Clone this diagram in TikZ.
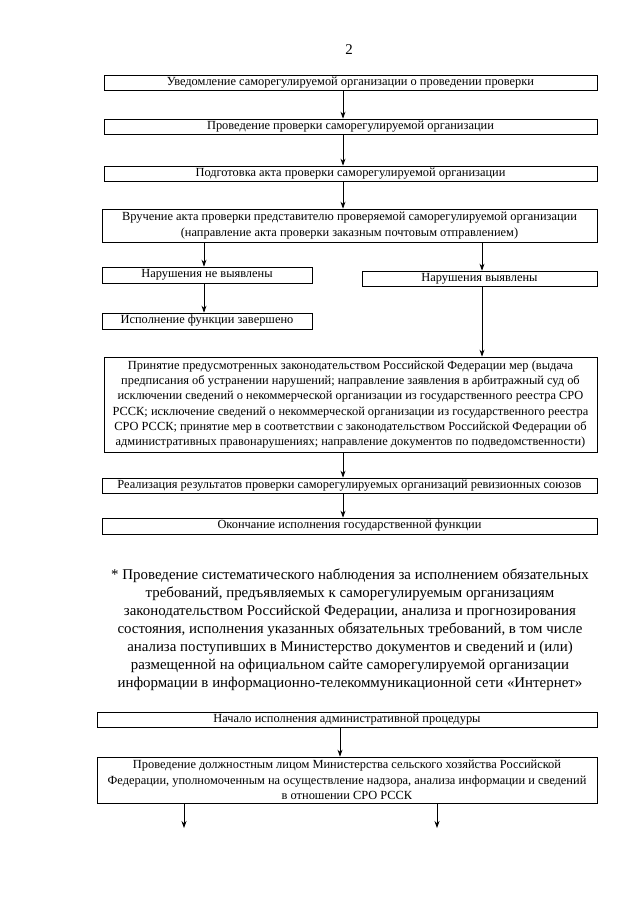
\documentclass[tikz,border=0pt]{standalone}
\usepackage{fontspec}
\setmainfont{Liberation Serif}
\usetikzlibrary{arrows.meta}
\newcommand{\boxfont}{\fontsize{12.4}{15.3}\selectfont}
\newcommand{\parfont}{\fontsize{14.9}{18}\selectfont}
\begin{document}
\begin{tikzpicture}[x=1pt,y=-1pt,
  fbox/.style={draw, line width=0.7pt, inner sep=0pt, align=center, font=\boxfont},
  arr/.style={draw, line width=0.8pt, -{Stealth[length=7pt,width=5pt]}}]
\useasboundingbox (0,0) rectangle (640,905);
\fill[white] (0,0) rectangle (640,905);
\node[font=\parfont] (pg) at (349,50) {2};
\node[fbox, minimum width=493pt, minimum height=15pt] (b1) at (350.5,82.5) {Уведомление саморегулируемой организации о проведении проверки};
\node[fbox, minimum width=493pt, minimum height=15pt] (b2) at (350.5,126.5) {Проведение проверки саморегулируемой организации};
\node[fbox, minimum width=493pt, minimum height=15pt] (b3) at (350.5,173.5) {Подготовка акта проверки саморегулируемой организации};
\node[fbox, minimum width=495pt, minimum height=33pt] (b4) at (349.5,225.5) {Вручение акта проверки представителю проверяемой саморегулируемой организации\\(направление акта проверки заказным почтовым отправлением)};
\node[fbox, minimum width=210pt, minimum height=16pt] (l1) at (207,275) {Нарушения не выявлены};
\node[fbox, minimum width=235pt, minimum height=15pt] (r1) at (479.5,278.5) {Нарушения выявлены};
\node[fbox, minimum width=210pt, minimum height=16pt] (l2) at (207,321) {Исполнение функции завершено};
\node[fbox, minimum width=493pt, minimum height=95pt] (big) at (350.5,404.5) {Принятие предусмотренных законодательством Российской Федерации мер (выдача\\предписания об устранении нарушений; направление заявления в арбитражный суд об\\исключении сведений о некоммерческой организации из государственного реестра СРО\\РССК; исключение сведений о некоммерческой организации из государственного реестра\\СРО РССК; принятие мер в соответствии с законодательством Российской Федерации об\\административных правонарушениях; направление документов по подведомственности)};
\node[fbox, minimum width=495pt, minimum height=15pt] (real) at (349.5,485.5) {Реализация результатов проверки саморегулируемых организаций ревизионных союзов};
\node[fbox, minimum width=495pt, minimum height=16pt] (okon) at (349.5,526) {Окончание исполнения государственной функции};
\node[font=\parfont, align=center, inner sep=0pt] (par) at (350,630) {* Проведение систематического наблюдения за исполнением обязательных\\требований, предъявляемых к саморегулируемым организациям\\законодательством Российской Федерации, анализа и прогнозирования\\состояния, исполнения указанных обязательных требований, в том числе\\анализа поступивших в Министерство документов и сведений и (или)\\размещенной на официальном сайте саморегулируемой организации\\информации в информационно-телекоммуникационной сети «Интернет»};
\node[fbox, minimum width=500pt, minimum height=15pt] (n1) at (347,719.5) {Начало исполнения административной процедуры};
\node[fbox, minimum width=500pt, minimum height=46pt] (n2) at (347,780) {Проведение должностным лицом Министерства сельского хозяйства Российской\\Федерации, уполномоченным на осуществление надзора, анализа информации и сведений\\в отношении СРО РССК};
\coordinate (cx) at (343,0);
\coordinate (lx) at (204,0);
\coordinate (rx) at (482,0);
\coordinate (nx) at (340,0);
\coordinate (e1) at (184,828);
\coordinate (e2) at (437,828);
\draw[arr] (b1.south -| cx) -- (b2.north -| cx);
\draw[arr] (b2.south -| cx) -- (b3.north -| cx);
\draw[arr] (b3.south -| cx) -- (b4.north -| cx);
\draw[arr] (b4.south -| lx) -- (l1.north -| lx);
\draw[arr] (b4.south -| rx) -- (r1.north -| rx);
\draw[arr] (l1.south -| lx) -- (l2.north -| lx);
\draw[arr] (r1.south -| rx) -- (big.north -| rx);
\draw[arr] (big.south -| cx) -- (real.north -| cx);
\draw[arr] (real.south -| cx) -- (okon.north -| cx);
\draw[arr] (n1.south -| nx) -- (n2.north -| nx);
\draw[arr] (n2.south -| e1) -- (e1);
\draw[arr] (n2.south -| e2) -- (e2);
\end{tikzpicture}
\end{document}
